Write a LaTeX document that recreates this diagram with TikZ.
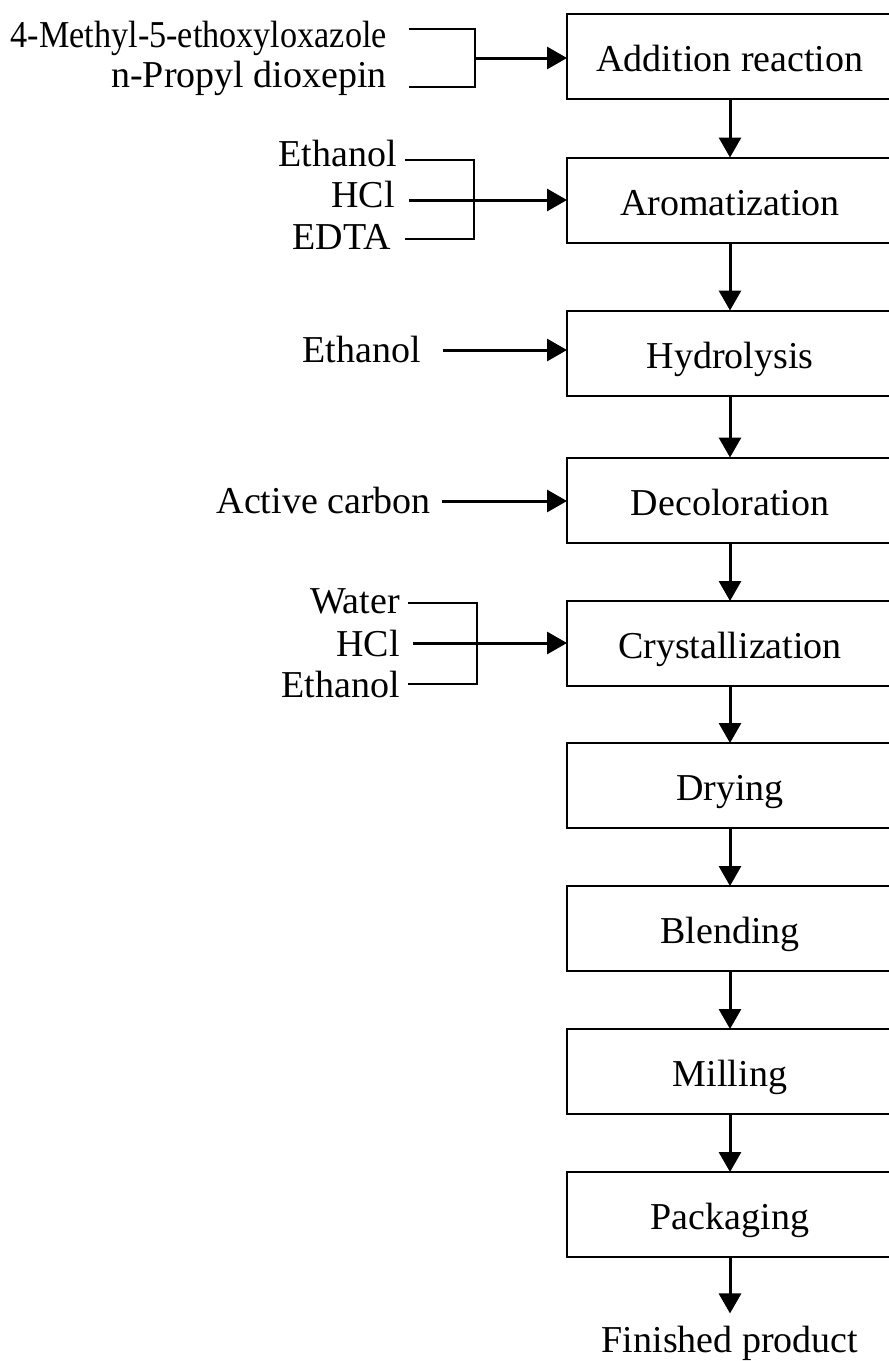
\documentclass[tikz,border=0pt]{standalone}
\usepackage{fontspec}
\setmainfont{Liberation Serif}
\usetikzlibrary{arrows.meta, positioning}

\begin{document}
\begin{tikzpicture}[x=1pt, y=-1pt,
    every node/.style={align=center, font=\fontsize{38pt}{44pt}\selectfont},
    arrow/.style={-{Triangle[length=20pt, width=22pt]}, line width=3pt},
    bracket/.style={line width=2.5pt},
    stage/.style={
        draw,
        line width=2pt,
        minimum width=326pt,
        minimum height=85pt,
        inner sep=0pt,
        outer sep=0pt,
        text height=34pt,
        text depth=4pt
    },
    feed/.style={anchor=base east, inner sep=0pt}]

    \useasboundingbox (0,0) rectangle (889,1361);
    \clip (0,0) rectangle (889,1361);

    % Process stages
    \node[stage] (add) at (730,56.5) {Addition reaction};
    \node[stage, below=58.5pt of add] (arom) {Aromatization};
    \node[stage, below=68pt of arom] (hyd) {Hydrolysis};
    \node[stage, below=62pt of hyd] (dec) {Decoloration};
    \node[stage, below=58.5pt of dec] (cry) {Crystallization};
    \node[stage, below=57pt of cry] (dry) {Drying};
    \node[stage, below=58pt of dry] (blend) {Blending};
    \node[stage, below=58pt of blend] (mill) {Milling};
    \node[stage, below=58pt of mill] (pack) {Packaging};
    \node[anchor=base, inner sep=12pt] (fin) at ([yshift=-95pt]pack.south) {Finished product};

    \draw[arrow] (add) -- (arom);
    \draw[arrow] (arom) -- (hyd);
    \draw[arrow] (hyd) -- (dec);
    \draw[arrow] (dec) -- (cry);
    \draw[arrow] (cry) -- (dry);
    \draw[arrow] (dry) -- (blend);
    \draw[arrow] (blend) -- (mill);
    \draw[arrow] (mill) -- (pack);
    \draw[arrow] (pack) -- (fin);

    % Feeds for addition reaction
    \node[feed] (mox) at (387,47) {\scalebox{0.9}[1]{4-Methyl-5-ethoxyloxazole}};
    \node[feed] (pdx) at (387,87) {n-Propyl dioxepin};
    \coordinate (a1) at (409,29);
    \coordinate (a2) at (409,87);
    \coordinate (j1) at (475,58);
    \draw[bracket] (a1) -| (a2 -| j1) -- (a2);
    \draw[arrow] (j1) -- (j1 -| add.west);

    % Feeds for aromatization
    \node[feed] (eth1) at (397,166) {Ethanol};
    \node[feed] (hcl1) at (395,207) {HCl};
    \node[feed] (edta) at (391,249) {EDTA};
    \coordinate (b1) at (405,160);
    \coordinate (b2) at (409,200);
    \coordinate (b3) at (405,239);
    \coordinate (j2) at (474,200);
    \draw[bracket] (b1) -| (b3 -| j2) -- (b3);
    \draw[arrow] (b2) -- (b2 -| arom.west);

    % Feed for hydrolysis
    \node[feed] (eth2) at (421,362) {Ethanol};
    \coordinate (c2) at (443,350);
    \draw[arrow] (c2) -- (c2 -| hyd.west);

    % Feed for decoloration
    \node[feed] (carb) at (431,513) {Active carbon};
    \coordinate (c3) at (442,501);
    \draw[arrow] (c3) -- (c3 -| dec.west);

    % Feeds for crystallization
    \node[feed] (wat) at (400,613) {Water};
    \node[feed] (hcl2) at (400,656) {HCl};
    \node[feed] (eth3) at (400,697) {Ethanol};
    \coordinate (d1) at (408,603);
    \coordinate (d2) at (413,643);
    \coordinate (d3) at (408,684);
    \coordinate (j5) at (477,643);
    \draw[bracket] (d1) -| (d3 -| j5) -- (d3);
    \draw[arrow] (d2) -- (d2 -| cry.west);

\end{tikzpicture}
\end{document}
